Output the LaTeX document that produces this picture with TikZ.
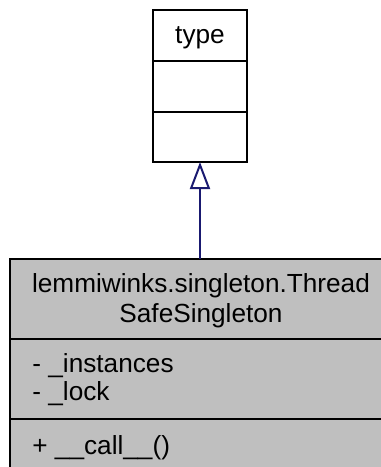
\documentclass[tikz,border=0pt]{standalone}
\usepackage{fontspec}
\setmainfont{Liberation Sans}
\usetikzlibrary{arrows.meta}
\definecolor{edgeblue}{HTML}{191970}
\definecolor{classgray}{HTML}{BFBFBF}
\begin{document}
\begin{tikzpicture}[x=0.5pt,y=-0.5pt,
  comp/.style={draw=black,line width=1pt,rectangle,inner sep=0pt,outer sep=0pt},
  lbl/.style={inner sep=0pt,anchor=base,font=\fontsize{13.1}{14.5}\selectfont},
  lbll/.style={inner sep=0pt,anchor=base west,font=\fontsize{13.1}{14.5}\selectfont},
  inherit/.style={draw=edgeblue,line width=1pt,-{Triangle[open,length=13.5pt,width=10pt]}}]
\useasboundingbox (0,0) rectangle (381,467);
\clip (0,0) rectangle (381,467);
% top class "type"
\node[comp,fill=white,minimum width=47pt,minimum height=25.5pt] (typeA) at (200,35.5) {};
\node[comp,fill=white,minimum width=47pt,minimum height=25.5pt] (typeB) at (200,86.5) {};
\node[comp,fill=white,minimum width=47pt,minimum height=25pt] (typeC) at (200,137) {};
\node[lbl] (typename) at (200,43) {type};
% bottom class
\node[comp,fill=classgray,minimum width=191pt,minimum height=40pt] (clsA) at (201,299) {};
\node[comp,fill=classgray,minimum width=191pt,minimum height=40pt] (clsB) at (201,379) {};
\node[comp,fill=classgray,minimum width=191pt,minimum height=40pt] (clsC) at (201,459) {};
\node[lbl] (n1) at (201,292) {lemmiwinks.singleton.Thread};
\node[lbl] (n2) at (201,322) {SafeSingleton};
\node[lbll] (a1) at (32,372) {- \_instances};
\node[lbll] (a2) at (32,400) {- \_lock};
\node[lbll] (m1) at (32,454) {+ \_\_call\_\_()};
% inheritance
\draw[inherit] (typeC.south |- clsA.north) -- (typeC.south);
\end{tikzpicture}
\end{document}
